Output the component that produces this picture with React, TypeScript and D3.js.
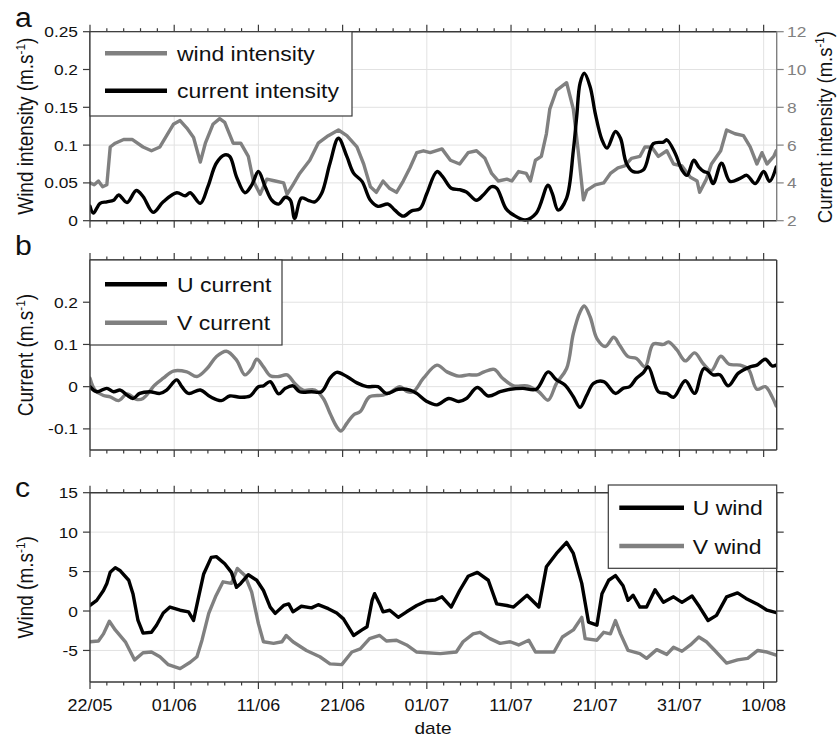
import React from "react";
import * as d3 from "d3";

// ---------- data (day offset from 22/05, value) ----------
const xTickDays = [0, 10, 20, 30, 40, 50, 60, 70, 80];
const xTickLabels = ["22/05", "01/06", "11/06", "21/06", "01/07", "11/07", "21/07", "31/07", "10/08"];
const xMinorDays = d3.range(0, 82, 2);
const dayEnd = 81.55;

const aLeftTicks = [0, 0.05, 0.1, 0.15, 0.2, 0.25];
const aLeftLabels = ["0", "0.05", "0.1", "0.15", "0.2", "0.25"];
const aRightTicks = [2, 4, 6, 8, 10, 12];
const aRightLabels = ["2", "4", "6", "8", "10", "12"];
const bTicks = [-0.1, 0, 0.1, 0.2];
const bLabels = ["-0.1", "0", "0.1", "0.2"];
const cTicks = [-5, 0, 5, 10, 15];
const cLabels = ["-5", "0", "5", "10", "15"];

const currentIntensity: [number, number][] = [
  [0,0.019],[0.4,0.01],[1.2,0.023],[2,0.025],[2.8,0.027],[3.4,0.034],[4.4,0.024],[5.5,0.04],[6.3,0.032],[7.5,0.011],[8.7,0.025],[10.3,0.037],[11.3,0.033],[11.9,0.037],[13.1,0.023],[14,0.045],[15,0.076],[16,0.087],[16.6,0.085],[17.4,0.058],[18.4,0.037],[19.2,0.047],[20,0.065],[20.8,0.045],[21.6,0.027],[22.4,0.022],[23.2,0.031],[23.8,0.027],[24.3,0.003],[25.1,0.03],[25.9,0.027],[26.7,0.025],[27.5,0.036],[28.5,0.076],[29.5,0.109],[30.5,0.085],[31.3,0.063],[32.3,0.052],[33.3,0.027],[34.2,0.019],[35.4,0.022],[36.2,0.014],[37.2,0.006],[38.2,0.013],[39.2,0.016],[40,0.036],[41.2,0.065],[41.9,0.058],[42.9,0.043],[43.9,0.041],[44.7,0.038],[45.9,0.027],[46.7,0.034],[47.7,0.045],[48.3,0.043],[49.4,0.016],[50.3,0.0075],[51.7,0.001],[53,0.01],[54.4,0.047],[54.9,0.036],[55.6,0.014],[56.6,0.03],[57.4,0.093],[57.8,0.138],[58.2,0.182],[58.7,0.195],[59.4,0.177],[60,0.142],[60.8,0.107],[61.4,0.096],[62.4,0.118],[63,0.109],[63.7,0.076],[64.5,0.065],[65.7,0.067],[66.9,0.102],[68.1,0.104],[68.5,0.107],[69.5,0.089],[70.3,0.067],[70.9,0.06],[71.7,0.08],[72.3,0.071],[72.9,0.065],[73.4,0.063],[74,0.049],[75,0.076],[76,0.052],[77.2,0.056],[78,0.06],[79,0.049],[80,0.065],[80.7,0.052],[81.5,0.071]
];

const windIntensity: [number, number][] = [
  [0,4.0],[0.5,3.9],[1,4.1],[1.5,3.8],[2,3.9],[2.4,5.9],[3,6.1],[4,6.3],[5,6.3],[6.3,5.9],[7.3,5.7],[8.3,5.9],[9.1,6.5],[9.9,7.1],[10.7,7.3],[11.5,6.9],[12.3,6.4],[13.1,5.1],[13.7,6.1],[14.6,7.1],[15.4,7.4],[16,7.2],[17,6.1],[17.9,6.1],[18.8,5.4],[19.4,4.1],[20.2,3.4],[21,4.2],[22,4.1],[23,4.0],[23.4,3.4],[24.1,3.9],[24.9,4.5],[26.1,5.2],[27.1,6.1],[28.3,6.5],[29.5,6.8],[30.5,6.5],[31.7,5.9],[32.5,5.0],[33.3,3.8],[34,3.5],[34.8,4.1],[35.6,3.7],[36.4,3.5],[37.2,4.1],[38,4.8],[38.8,5.6],[39.6,5.7],[40.4,5.6],[41.8,5.8],[42.8,5.2],[43.9,5.0],[44.9,5.6],[45.9,5.7],[46.9,5.3],[47.7,4.5],[48.5,4.1],[49.5,4.2],[50.1,4.1],[50.9,4.6],[51.8,4.5],[52.3,4.1],[52.9,5.2],[53.6,5.4],[54.2,6.6],[54.6,7.9],[55.4,8.9],[56.6,9.3],[57.4,7.9],[58,5.6],[58.6,3.1],[59,3.6],[60,3.9],[61,4.0],[61.8,4.5],[62.7,4.8],[63.5,4.9],[64.3,5.3],[65.3,5.4],[65.9,5.9],[66.7,5.9],[67.5,5.4],[68.5,5.7],[69.3,5.0],[70.3,4.9],[71.3,4.3],[72.1,4.1],[72.4,3.5],[73.2,4.2],[73.8,5.0],[74.9,5.7],[75.6,6.8],[76.6,6.6],[77.6,6.5],[78.4,5.9],[79.2,5.0],[79.8,5.6],[80.4,5.0],[81.2,5.4],[81.5,5.7]
];

const uCurrent: [number, number][] = [
  [0,0],[0.8,-0.012],[2,-0.004],[2.8,-0.012],[3.6,-0.008],[4.4,-0.02],[5.1,-0.028],[5.9,-0.016],[7.1,-0.012],[8.3,-0.016],[9.1,-0.008],[10.3,0.016],[10.9,0],[11.7,-0.016],[13.1,-0.008],[14.3,-0.024],[15.6,-0.033],[16.6,-0.022],[17.8,-0.025],[19,-0.022],[20,0],[20.6,0.002],[21.4,0.012],[22.4,-0.017],[23.2,-0.004],[24.1,0.002],[24.9,-0.012],[26.3,-0.012],[27.5,-0.012],[28.5,0.02],[29.3,0.034],[30.5,0.024],[31.7,0.009],[32.9,0],[34.2,0],[35.2,-0.016],[36.6,-0.006],[38,-0.008],[38.8,-0.016],[40,-0.035],[41.2,-0.043],[42.6,-0.028],[43.8,-0.035],[44.7,-0.028],[46,-0.002],[47.3,-0.022],[48.7,-0.012],[49.9,-0.006],[51.4,-0.004],[53,-0.006],[54.4,0.035],[55.4,0.016],[56.4,0.004],[57.4,-0.024],[58.2,-0.049],[59,-0.02],[59.8,0.008],[61,0.012],[62.4,-0.016],[63.3,-0.004],[64.1,0],[64.9,0.02],[65.7,0.033],[66.3,0.047],[67.5,-0.012],[68.5,-0.016],[69.3,-0.025],[70.7,0.014],[71.8,-0.016],[72.9,0.043],[74,0.028],[74.8,0.028],[75.8,0.002],[77,0.032],[78.4,0.047],[79.2,0.051],[80.2,0.065],[81,0.049],[81.5,0.051]
];

const vCurrent: [number, number][] = [
  [0,0.02],[0.6,-0.008],[1.6,-0.021],[2.4,-0.024],[3.4,-0.033],[4.4,-0.017],[5.5,-0.03],[6.3,-0.028],[7.7,0.004],[8.7,0.02],[9.9,0.037],[11.5,0.035],[12.7,0.024],[13.9,0.043],[15,0.071],[16.2,0.084],[17.4,0.063],[18.4,0.028],[19.2,0.043],[19.8,0.065],[20.6,0.047],[21.4,0.026],[22.4,0.024],[23.4,0.028],[24.3,0.008],[25.3,-0.008],[26.7,-0.008],[27.7,-0.028],[28.5,-0.063],[29.3,-0.095],[29.8,-0.105],[30.5,-0.087],[31.3,-0.067],[32.1,-0.059],[33.2,-0.024],[34.8,-0.02],[35.8,-0.012],[36.8,0],[37.7,-0.012],[38.4,-0.012],[39.6,0.02],[41.2,0.051],[42.4,0.035],[43.8,0.025],[44.9,0.028],[46,0.028],[46.8,0.035],[48,0.041],[49,0.02],[50.3,0.002],[51.9,0.002],[53.3,-0.012],[54.4,-0.032],[55.4,0.008],[56.6,0.043],[57.4,0.126],[58.2,0.177],[58.7,0.191],[59.4,0.165],[60.2,0.114],[61.2,0.095],[62.2,0.117],[62.9,0.098],[63.9,0.071],[64.9,0.067],[65.9,0.047],[66.9,0.101],[68.1,0.1],[68.7,0.106],[69.7,0.087],[70.7,0.061],[71.8,0.08],[72.8,0.055],[73.8,0.038],[74.9,0.072],[75.9,0.053],[77.2,0.051],[78.2,0.041],[79.2,-0.006],[80.2,0],[81,-0.024],[81.5,-0.046]
];

const uWind: [number, number][] = [
  [0,0.7],[0.8,1.35],[1.6,2.6],[2,3.5],[2.4,4.9],[3,5.5],[3.6,5.1],[4.6,3.9],[5.1,2.2],[5.7,-1.2],[6.3,-2.8],[7.3,-2.7],[7.9,-1.8],[8.7,-0.25],[9.5,0.5],[10.7,0.1],[11.7,-0.1],[12.3,-1.2],[12.9,1.8],[13.5,4.7],[14.4,6.8],[15,6.9],[16,6.0],[16.8,4.9],[17.4,3.0],[17.9,3.5],[18.8,4.6],[19.8,3.9],[20.6,2.6],[21.4,0.5],[22,-0.3],[23,0.7],[23.6,0.9],[24.1,-0.1],[25.1,0.6],[26.3,0.4],[27.1,0.8],[28.3,0.3],[29.3,-0.25],[30.1,-1.0],[31.3,-3.1],[32.3,-2.4],[32.9,-2.0],[33.5,1.35],[33.8,2.2],[34.4,0.9],[34.8,-0.1],[35.6,0.1],[36.6,-0.8],[37.6,-0.1],[38.8,0.7],[40,1.3],[41,1.4],[41.8,1.8],[42.9,0.5],[43.9,2.6],[44.9,4.4],[46,4.9],[47.3,3.9],[48.3,0.9],[49.5,0.7],[50.3,0.5],[51.9,2.0],[53.3,0.5],[54.2,5.6],[55.4,7.3],[56.6,8.7],[57.4,7.3],[58.4,3.5],[59.2,-1.4],[60.2,-1.8],[60.8,2.2],[61.6,3.9],[62.4,4.5],[63.3,3.2],[63.9,1.35],[64.5,2.0],[65.3,0.5],[66.1,0.5],[67.1,2.7],[68.1,1.1],[69.3,1.8],[70.3,1.1],[71.5,1.9],[72.4,0.5],[73.4,-1.2],[74.4,-0.55],[75.6,1.8],[76.9,2.3],[77.9,1.6],[79.2,0.9],[80.4,0.1],[81.5,-0.2]
];

const vWind: [number, number][] = [
  [0,-3.9],[1,-3.8],[1.6,-2.9],[2.3,-1.3],[3,-2.4],[4.2,-3.9],[5.3,-6.2],[6.3,-5.3],[7.3,-5.2],[8.3,-5.8],[9.3,-6.8],[10.7,-7.3],[11.9,-6.5],[12.7,-5.8],[13.3,-3.7],[14.1,-0.3],[14.9,1.8],[15.8,3.7],[16.8,3.5],[17.5,5.4],[18.4,4.5],[19.2,2.4],[20,-1.6],[20.6,-3.9],[21.8,-4.1],[22.8,-3.9],[23.3,-3.1],[24.1,-3.9],[25.7,-5.0],[27.3,-5.8],[28.5,-6.7],[29.9,-6.8],[31.1,-5.2],[32.1,-4.8],[33.2,-3.5],[34.4,-3.1],[35.2,-3.8],[36.4,-3.7],[37.6,-4.3],[38.8,-5.2],[40,-5.3],[41.6,-5.4],[43.5,-5.2],[44.3,-3.9],[45.5,-2.9],[46.3,-2.7],[47.5,-3.5],[48.7,-4.1],[49.9,-3.9],[50.9,-4.3],[52.1,-3.7],[52.9,-5.2],[54.2,-5.2],[55.1,-5.2],[56.1,-3.3],[57.4,-2.4],[58.4,-0.8],[58.8,-3.5],[60.2,-3.7],[61,-2.7],[61.8,-2.9],[62.4,-1.2],[63,-2.9],[63.9,-5.0],[65.3,-5.4],[66.1,-6.0],[67.3,-4.9],[68.5,-5.5],[69.3,-4.6],[70.3,-5.1],[71.3,-4.3],[72.3,-3.3],[73.2,-3.9],[74.2,-5.0],[75.6,-6.6],[76.9,-6.2],[78.1,-6.0],[79.3,-5.0],[80.4,-5.2],[81.5,-5.6]
];

// ---------- style ----------
const FONT = "'Liberation Sans', Arial, Helvetica, sans-serif";
const GRAY = "#808080";
const FRAME = "#3a3a3a";
const GRID = "#e2e2e2";
const SX = 1.12;
const LW = 3.4;

const X0 = 90, X1 = 776.7;
const x = d3.scaleLinear().domain([0, dayEnd]).range([X0, X1]);

type TP = { x: number; y: number; size: number; anchor?: string; fill?: string; children: React.ReactNode };
const HText = ({ x, y, size, anchor = "start", fill = "#111", children }: TP) => (
  <text transform={`translate(${x},${y}) scale(${SX},1)`} textAnchor={anchor} fontSize={size} fill={fill} fontFamily={FONT}>
    {children}
  </text>
);

const VText = ({ x, y, size, fill = "#111", label }: { x: number; y: number; size: number; fill?: string; label: string }) => (
  <text transform={`translate(${x},${y}) rotate(-90) scale(1,${SX})`} textAnchor="middle" fontSize={size} fill={fill} fontFamily={FONT}>
    {label}
    <tspan dy={-size * 0.38} fontSize={size * 0.62}>-1</tspan>
    <tspan dy={size * 0.38}>)</tspan>
  </text>
);

function Grid({ top, bottom, y, ticks }: any) {
  return (
    <g>
      {xTickDays.map((d) => (
        <line key={"gx" + d} x1={x(d)} x2={x(d)} y1={top} y2={bottom} stroke={GRID} strokeWidth={1} />
      ))}
      {ticks.map((t: number) => (
        <line key={"gy" + t} x1={X0} x2={X1} y1={y(t)} y2={y(t)} stroke={GRID} strokeWidth={1} />
      ))}
    </g>
  );
}

function Axes({ top, bottom, y, ticks, labels, rightScale, rightTicks, rightLabels, showX }: any) {
  const rightColor = rightScale ? GRAY : FRAME;
  const rs = rightScale || y;
  const rt = rightTicks || ticks;
  return (
    <g>
      {xMinorDays.map((d) => {
        const major = d % 10 === 0;
        const len = major ? 7 : 3.5;
        return (
          <g key={"xt" + d}>
            <line x1={x(d)} x2={x(d)} y1={top} y2={top - len} stroke={FRAME} strokeWidth={1.2} />
            <line x1={x(d)} x2={x(d)} y1={bottom} y2={bottom + len} stroke={FRAME} strokeWidth={1.2} />
          </g>
        );
      })}
      {ticks.map((t: number, i: number) => (
        <g key={"yl" + t}>
          <line x1={X0} x2={X0 - 7} y1={y(t)} y2={y(t)} stroke={FRAME} strokeWidth={1.2} />
          <HText x={78} y={y(t) + 5.5} size={15.5} anchor="end">{labels[i]}</HText>
        </g>
      ))}
      {rt.map((t: number, i: number) => (
        <g key={"yr" + t}>
          <line x1={X1} x2={X1 + 7} y1={rs(t)} y2={rs(t)} stroke={rightColor} strokeWidth={1.2} />
          {rightLabels && (
            <HText x={787} y={rs(t) + 5.5} size={15.5} fill={GRAY}>{rightLabels[i]}</HText>
          )}
        </g>
      ))}
      <line x1={X0} x2={X1} y1={top} y2={top} stroke={FRAME} strokeWidth={1.4} />
      <line x1={X0} x2={X1} y1={bottom} y2={bottom} stroke={FRAME} strokeWidth={1.4} />
      <line x1={X0} x2={X0} y1={top} y2={bottom} stroke={FRAME} strokeWidth={1.4} />
      <line x1={X1} x2={X1} y1={top} y2={bottom} stroke={rightColor} strokeWidth={1.4} />
      {showX &&
        xTickDays.map((d, i) => (
          <HText key={"xl" + d} x={x(d)} y={711} size={16} anchor="middle">{xTickLabels[i]}</HText>
        ))}
    </g>
  );
}

function Legend({ x0, y0, x1, y1, items }: any) {
  return (
    <g>
      <rect x={x0} y={y0} width={x1 - x0} height={y1 - y0} fill="#fff" stroke={FRAME} strokeWidth={1.2} />
      {items.map((it: any, i: number) => (
        <g key={i}>
          <line x1={it.lx0} x2={it.lx1} y1={it.ly} y2={it.ly} stroke={it.color} strokeWidth={4.4} />
          <HText x={it.tx} y={it.ly + 7.5} size={20.5}>{it.label}</HText>
        </g>
      ))}
    </g>
  );
}

export default function App() {
  const aTop = 31.7, aBot = 220.7;
  const yaL = d3.scaleLinear().domain([0, 0.25]).range([aBot, aTop]);
  const yaR = d3.scaleLinear().domain([2, 12]).range([aBot, aTop]);
  const bTop = 260, bBot = 450;
  const yb = d3.scaleLinear().domain([-0.15, 0.3]).range([bBot, bTop]);
  const cTop = 492.7, cBot = 682;
  const yc = d3.scaleLinear().domain([-9, 15]).range([cBot, cTop]);

  const smooth = (ys: d3.ScaleLinear<number, number>) =>
    d3.line<[number, number]>().x((d) => x(d[0])).y((d) => ys(d[1])).curve(d3.curveCatmullRom.alpha(0.5));
  const lin = (ys: d3.ScaleLinear<number, number>) =>
    d3.line<[number, number]>().x((d) => x(d[0])).y((d) => ys(d[1])).curve(d3.curveLinear);

  return (
    <svg width={838} height={739} style={{ position: "absolute", left: 0, top: 0, background: "#fff" }} fontFamily={FONT}>
      <defs>
        <clipPath id="ca"><rect x={X0} y={aTop - 2} width={X1 - X0} height={aBot - aTop + 4} /></clipPath>
        <clipPath id="cb"><rect x={X0} y={bTop} width={X1 - X0} height={bBot - bTop} /></clipPath>
        <clipPath id="cc"><rect x={X0} y={cTop} width={X1 - X0} height={cBot - cTop} /></clipPath>
      </defs>
      <rect x={0} y={0} width={838} height={739} fill="#fff" />

      {/* panel a */}
      <Grid top={aTop} bottom={aBot} y={yaL} ticks={aLeftTicks} />
      <g clipPath="url(#ca)" fill="none" strokeLinejoin="round" strokeLinecap="round">
        <path d={lin(yaR)(windIntensity) || ""} stroke={GRAY} strokeWidth={LW} />
        <path d={smooth(yaL)(currentIntensity) || ""} stroke="#000" strokeWidth={LW} />
      </g>
      <Axes top={aTop} bottom={aBot} y={yaL} ticks={aLeftTicks} labels={aLeftLabels}
        rightScale={yaR} rightTicks={aRightTicks} rightLabels={aRightLabels} />
      <Legend x0={X0} y0={aTop} x1={352} y1={116}
        items={[
          { lx0: 105, lx1: 167, ly: 53.3, tx: 177, color: GRAY, label: "wind intensity" },
          { lx0: 105, lx1: 167, ly: 90.7, tx: 177, color: "#000", label: "current intensity" },
        ]} />
      <VText x={33} y={(aTop + aBot) / 2} size={19} label="Wind intensity (m.s" />
      <VText x={832} y={(aTop + aBot) / 2 + 1} size={18.5} label="Current intensity (m.s" />
      <HText x={15} y={27} size={27}>a</HText>

      {/* panel b */}
      <Grid top={bTop} bottom={bBot} y={yb} ticks={bTicks} />
      <g clipPath="url(#cb)" fill="none" strokeLinejoin="round" strokeLinecap="round">
        <path d={smooth(yb)(vCurrent) || ""} stroke={GRAY} strokeWidth={LW} />
        <path d={smooth(yb)(uCurrent) || ""} stroke="#000" strokeWidth={LW} />
      </g>
      <Axes top={bTop} bottom={bBot} y={yb} ticks={bTicks} labels={bLabels} />
      <Legend x0={X0} y0={bTop} x1={282} y1={345}
        items={[
          { lx0: 105, lx1: 167, ly: 284.3, tx: 177, color: "#000", label: "U current" },
          { lx0: 105, lx1: 167, ly: 322.7, tx: 177, color: GRAY, label: "V current" },
        ]} />
      <VText x={33} y={(bTop + bBot) / 2} size={19} label="Current (m.s" />
      <HText x={15} y={255} size={27}>b</HText>

      {/* panel c */}
      <Grid top={cTop} bottom={cBot} y={yc} ticks={cTicks} />
      <g clipPath="url(#cc)" fill="none" strokeLinejoin="round" strokeLinecap="round">
        <path d={lin(yc)(vWind) || ""} stroke={GRAY} strokeWidth={LW} />
        <path d={lin(yc)(uWind) || ""} stroke="#000" strokeWidth={LW} />
      </g>
      <Axes top={cTop} bottom={cBot} y={yc} ticks={cTicks} labels={cLabels} showX />
      <Legend x0={608.3} y0={485} x1={X1} y1={568.3}
        items={[
          { lx0: 619.3, lx1: 684, ly: 507.7, tx: 692.7, color: "#000", label: "U wind" },
          { lx0: 619.3, lx1: 684, ly: 546, tx: 692.7, color: GRAY, label: "V wind" },
        ]} />
      <VText x={33} y={(cTop + cBot) / 2} size={19} label="Wind (m.s" />
      <HText x={15} y={497} size={27}>c</HText>
      <HText x={433} y={734} size={17} anchor="middle">date</HText>
    </svg>
  );
}
